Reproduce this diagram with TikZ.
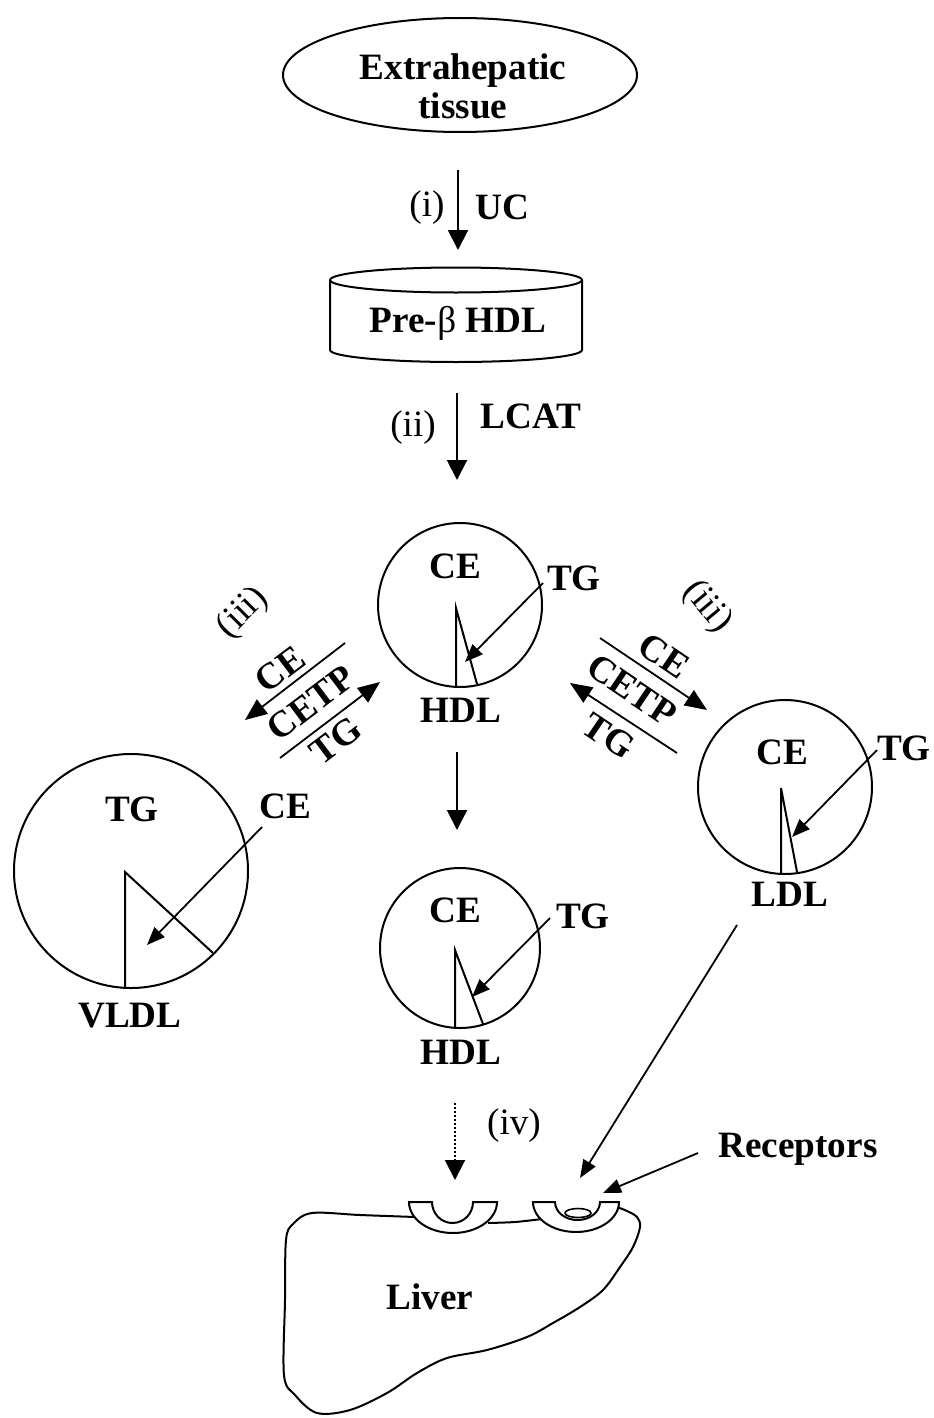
\documentclass[tikz,border=0pt]{standalone}
\usepackage{fontspec}
\setmainfont{Liberation Serif}
\usetikzlibrary{arrows.meta,shapes.geometric}

\begin{document}
\begin{tikzpicture}[x=0.5pt,y=-0.5pt,
  lab/.style={font=\fontsize{18.6}{19.5}\selectfont\bfseries, inner sep=0pt},
  rom/.style={font=\fontsize{18.6}{19.5}\selectfont, inner sep=0pt},
  outline/.style={line width=1pt},
  flow/.style={line width=1pt, -{Triangle[length=10pt,width=10pt]}},
  swap/.style={line width=0.9pt, -{Triangle[length=11pt,width=9pt]}},
  ptr/.style={line width=0.9pt, -{Triangle[length=9pt,width=7pt]}},
]
\fill[white] (0,0) rectangle (933,1418);
\useasboundingbox (0,0) rectangle (933,1418);

% source tissue
\node[ellipse, draw, outline, minimum width=177pt, minimum height=57pt, inner sep=0pt] (src) at (460,75) {};
\node[lab, align=center] (srctext) at (463,86) {Extrahepatic\\tissue};

% step (i)
\coordinate (i0) at (458,170);
\coordinate (i1) at (458,250);
\draw[flow] (i0) -- (i1);
\node[rom] (ilab) at (427,208) {(i)};
\node[lab] (uc) at (502,207) {UC};

% pre-beta HDL disc
\draw[outline] (330,280) -- (330,350) arc[start angle=180,end angle=0,x radius=126,y radius=12] -- (582,280);
\draw[outline] (456,280) ellipse[x radius=126,y radius=12.5];
\node[lab, anchor=base] (pre) at (458,332) {Pre-{\mdseries β} HDL};

% step (ii)
\coordinate (ii0) at (457,393);
\coordinate (ii1) at (457,480);
\draw[flow] (ii0) -- (ii1);
\node[rom] (iilab) at (413,428) {(ii)};
\node[lab] (lcat) at (531,416) {LCAT};

% nascent HDL
\node[circle, draw, outline, minimum size=82pt, inner sep=0pt] (hdlA) at (460,605) {};
\draw[outline] (456,687) -- (456,608) -- (477,684);
\coordinate (hA0) at (543,583);
\coordinate (hA1) at (465,662);
\draw[ptr] (hA0) -- (hA1);
\node[lab] (hAce) at (455,566) {CE};
\node[lab] (hAtg) at (574,578) {TG};
\node[lab] (hAname) at (461,710) {HDL};

% CETP exchange with VLDL
\coordinate (l1a) at (345,643);
\coordinate (l1b) at (245,720);
\coordinate (l2a) at (280,758);
\coordinate (l2b) at (380,682);
\draw[swap] (l1a) -- (l1b);
\draw[swap] (l2a) -- (l2b);
\node[lab, rotate=37] (lce) at (280,669) {CE};
\node[lab, rotate=37] (lcetp) at (311,703) {CETP};
\node[lab, rotate=37] (ltg) at (336,741) {TG};
\node[rom, rotate=45] (liii) at (243,613) {(iii)};

% CETP exchange with LDL
\coordinate (r1a) at (600,638);
\coordinate (r1b) at (707,710);
\coordinate (r2a) at (677,753);
\coordinate (r2b) at (570,683);
\draw[swap] (r1a) -- (r1b);
\draw[swap] (r2a) -- (r2b);
\node[lab, rotate=-34] (rce) at (664,656) {CE};
\node[lab, rotate=-34] (rcetp) at (632,690) {CETP};
\node[lab, rotate=-34] (rtg) at (609,736) {TG};
\node[rom, rotate=-50] (riii) at (707,607) {(iii)};

% VLDL
\node[circle, draw, outline, minimum size=117pt, inner sep=0pt] (vldl) at (131,871) {};
\draw[outline] (125,988) -- (125,872) -- (213,953);
\coordinate (v0) at (262,827);
\coordinate (v1) at (147,945);
\draw[ptr] (v0) -- (v1);
\node[lab] (vtg) at (132,809) {TG};
\node[lab] (vce) at (285,806) {CE};
\node[lab] (vname) at (130,1016) {VLDL};

% maturation arrow
\coordinate (m0) at (457,752);
\coordinate (m1) at (457,830);
\draw[flow] (m0) -- (m1);

% mature HDL
\node[circle, draw, outline, minimum size=80pt, inner sep=0pt] (hdlB) at (460,948) {};
\draw[outline] (455,1028) -- (455,950) -- (483,1024);
\coordinate (hB0) at (550,918);
\coordinate (hB1) at (472,997);
\draw[ptr] (hB0) -- (hB1);
\node[lab] (hBce) at (455,910) {CE};
\node[lab] (hBtg) at (583,916) {TG};
\node[lab] (hBname) at (461,1052) {HDL};

% LDL
\node[circle, draw, outline, minimum size=87pt, inner sep=0pt] (ldl) at (785,787) {};
\draw[outline] (781,873) -- (781,788) -- (797,872);
\coordinate (d0) at (877,750);
\coordinate (d1) at (792,837);
\draw[ptr] (d0) -- (d1);
\node[lab] (dce) at (782,752) {CE};
\node[lab] (dtg) at (904,748) {TG};
\node[lab] (dname) at (790,894) {LDL};

% liver outline
\draw[outline] plot[smooth, tension=0.55] coordinates {(415,1217) (360,1215) (312,1213) (293,1224) (286,1240) (285,1300) (284,1375) (295,1395) (317,1413) (350,1410) (387,1393) (417,1373) (447,1358) (487,1350) (527,1337) (553,1323) (580,1307) (603,1290) (620,1267) (633,1247) (640,1227) (637,1217) (627,1211) (617,1207)};
\draw[outline] plot[smooth] coordinates {(488,1223) (515,1222) (542,1219)};
\node[lab] (liver) at (430,1297) {Liver};

% receptors on the liver surface
\draw[outline, fill=white] (409,1202) -- (432,1202) arc[start angle=180,end angle=0,x radius=20.5,y radius=21] -- (497,1202) arc[start angle=0,end angle=180,x radius=44,y radius=31] -- cycle;
\draw[outline, fill=white] (533,1202) -- (555,1202) arc[start angle=180,end angle=0,x radius=22.5,y radius=18] -- (619,1202) arc[start angle=0,end angle=180,x radius=43,y radius=30] -- cycle;
\draw[line width=0.8pt] (578,1213) ellipse[x radius=13,y radius=4.5];

% uptake by the liver
\coordinate (u0) at (455,1103);
\coordinate (u1) at (455,1180);
\draw[flow, densely dotted] (u0) -- (u1);
\node[rom] (ivlab) at (514,1126) {(iv)};
\coordinate (k0) at (737,925);
\coordinate (k1) at (580,1178);
\draw[ptr] (k0) -- (k1);
\coordinate (rc0) at (698,1153);
\coordinate (rc1) at (603,1193);
\draw[ptr] (rc0) -- (rc1);
\node[lab, anchor=base] (recep) at (798,1157) {Receptors};
\end{tikzpicture}
\end{document}
